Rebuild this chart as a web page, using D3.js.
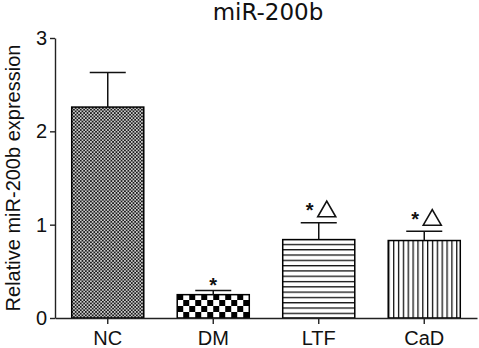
<!DOCTYPE html>
<html><head><meta charset="utf-8">
<script src="https://cdn.jsdelivr.net/npm/d3@7/dist/d3.min.js"></script>
<style>body{margin:0;background:#fff}svg{display:block}</style>
</head><body>
<svg id="c" width="479" height="348"></svg>
<script>
const categories = ["NC", "DM", "LTF", "CaD"];
const means = [2.26, 0.25, 0.84, 0.83];
const errors = [0.37, 0.045, 0.18, 0.10];
const marks = ["", "*", "*\u25B3", "*\u25B3"];
const yTicks = [0, 1, 2, 3];
const patterns = ["fine", "checker", "hlines", "vlines"];

const svg = d3.select("#c");
const W = 479, H = 348;
const m = {left: 55, right: 2, top: 38, bottom: 30};
const x = d3.scaleBand().domain(categories).range([m.left, W - m.right]).paddingInner(0.317).paddingOuter(0.1585);
const y = d3.scaleLinear().domain([0, 3]).range([H - m.bottom, m.top]);

const defs = svg.append("defs");
let p = defs.append("pattern").attr("id", "fine").attr("patternUnits", "userSpaceOnUse").attr("width", 3.4).attr("height", 3.4);
p.append("rect").attr("width", 3.4).attr("height", 3.4).attr("fill", "#1a1a1a");
p.append("rect").attr("x", 0.1).attr("y", 0.1).attr("width", 1.5).attr("height", 1.5).attr("fill", "#fff");
p.append("rect").attr("x", 1.8).attr("y", 1.8).attr("width", 1.5).attr("height", 1.5).attr("fill", "#fff");
p = defs.append("pattern").attr("id", "checker").attr("patternUnits", "userSpaceOnUse").attr("width", 12).attr("height", 12)
  .attr("x", x("DM")).attr("y", y(0));
p.append("rect").attr("width", 12).attr("height", 12).attr("fill", "#fff");
p.append("rect").attr("x", 0).attr("y", 0).attr("width", 6).attr("height", 6).attr("fill", "#000");
p.append("rect").attr("x", 6).attr("y", 6).attr("width", 6).attr("height", 6).attr("fill", "#000");
p = defs.append("pattern").attr("id", "hlines").attr("patternUnits", "userSpaceOnUse").attr("width", 10).attr("height", 5.3)
  .attr("x", 0).attr("y", y(0));
p.append("rect").attr("width", 10).attr("height", 5.3).attr("fill", "#fff");
p.append("rect").attr("x", 0).attr("y", 0).attr("width", 10).attr("height", 1.3).attr("fill", "#111");
p = defs.append("pattern").attr("id", "vlines").attr("patternUnits", "userSpaceOnUse").attr("width", 4.85).attr("height", 10)
  .attr("x", x("CaD")).attr("y", 0);
p.append("rect").attr("width", 4.85).attr("height", 10).attr("fill", "#fff");
p.append("rect").attr("x", 0).attr("y", 0).attr("width", 1.3).attr("height", 10).attr("fill", "#111");

svg.selectAll("rect.bar").data(categories).join("rect").attr("class", "bar")
  .attr("x", d => x(d)).attr("width", x.bandwidth())
  .attr("y", (d, i) => y(means[i])).attr("height", (d, i) => y(0) - y(means[i]))
  .attr("fill", (d, i) => `url(#${patterns[i]})`)
  .attr("stroke", "#000").attr("stroke-width", 1.5);

const eb = svg.append("g").attr("stroke", "#111").attr("stroke-width", 1.5);
categories.forEach((c, i) => {
  const cx = x(c) + x.bandwidth() / 2;
  const top = y(means[i] + errors[i]);
  const cw = x.bandwidth() / 2;
  eb.append("line").attr("x1", cx).attr("x2", cx).attr("y1", y(means[i])).attr("y2", top);
  eb.append("line").attr("x1", cx - cw / 2).attr("x2", cx + cw / 2).attr("y1", top).attr("y2", top);
  const mk = marks[i];
  if (!mk) return;
  const hasTri = mk.includes("\u25B3");
  const star = svg.append("text").text("*").attr("text-anchor", "middle")
    .attr("font-family", "Liberation Sans, Arial, sans-serif").attr("font-size", 20).attr("font-weight", "bold").attr("fill", "#111");
  if (hasTri) {
    star.attr("x", cx - 9).attr("y", top - 17 + 11.5);
    const side = 18, h = side * Math.sqrt(3) / 2;
    const by = top - 6, tx = cx + 8;
    svg.append("path").attr("d", `M${tx - side / 2},${by}L${tx + side / 2},${by}L${tx},${by - h}Z`)
      .attr("fill", "none").attr("stroke", "#111").attr("stroke-width", 1.6);
  } else {
    star.attr("x", cx).attr("y", top - 10 + 11.5);
  }
});

const fam = "Liberation Sans, Arial, sans-serif";
const gx = svg.append("g").attr("transform", `translate(0,${y(0)})`)
  .call(d3.axisBottom(x).tickSize(6).tickSizeOuter(0).tickPadding(7));
const gy = svg.append("g").attr("transform", `translate(${m.left},0)`)
  .call(d3.axisLeft(y).tickValues(yTicks).tickFormat(d3.format("d")).tickSize(5).tickSizeOuter(0).tickPadding(3));
[gx, gy].forEach(g => {
  g.selectAll("path,line").attr("stroke", "#222").attr("stroke-width", 1.4);
  g.selectAll("text").attr("font-family", fam).attr("font-size", 20).attr("fill", "#111");
});

svg.append("text").text("miR-200b").attr("x", 268).attr("y", 19.5).attr("text-anchor", "middle")
  .attr("font-family", "DejaVu Sans, sans-serif").attr("font-size", 23).attr("fill", "#111");
svg.append("text").text("Relative miR-200b expression")
  .attr("transform", `translate(19.5,${(y(0) + y(3)) / 2}) rotate(-90)`).attr("text-anchor", "middle")
  .attr("font-family", fam).attr("font-size", 20).attr("fill", "#111");
</script>
</body></html>
